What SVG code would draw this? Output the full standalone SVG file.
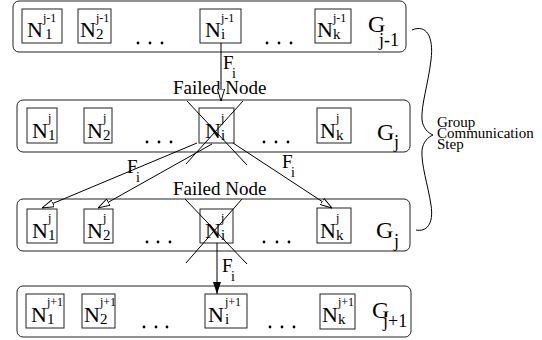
<svg xmlns="http://www.w3.org/2000/svg" width="542" height="340" viewBox="0 0 542 340" font-family="'Liberation Serif', 'DejaVu Serif', serif">
  <defs>
    <style>
      .grp { fill: #fff; stroke: #222; stroke-width: 1; }
      .box { fill: none; stroke: #222; stroke-width: 1; }
      .ln { fill: none; stroke: #000; stroke-width: 1; }
      text { font-family: 'Liberation Serif', 'DejaVu Serif', serif; fill: #000; }
      .n { font-size: 22px; }
      .sup { font-size: 12px; }
      .sub { font-size: 15px; }
      .g { font-size: 24px; }
      .gs { font-size: 18px; }
      .lbl { font-size: 19px; }
      .ls { font-size: 14px; }
      .side { font-size: 15px; }
      .dot { fill: #000; }
    </style>
    <marker id="open" markerUnits="userSpaceOnUse" markerWidth="12" markerHeight="8" viewBox="0 0 10 6" refX="10" refY="3" orient="auto">
      <path d="M0,0 L10,3 L0,6 Z" fill="#fff" stroke="#000" stroke-width="0.8"/>
    </marker>
    <marker id="solid" markerUnits="userSpaceOnUse" markerWidth="12" markerHeight="8" viewBox="0 0 12 8" refX="12" refY="4" orient="auto">
      <path d="M0,0 L12,4 L0,8 Z" fill="#000"/>
    </marker>
  </defs>

  <!-- group G(j-1) -->
  <g id="G_jm1">
    <rect class="grp" x="13" y="1" width="393" height="51" rx="6"/>
    <text class="g" x="368" y="32">G</text>
    <text class="gs" x="379" y="46">j-1</text>
    <circle class="dot" cx="138" cy="43" r="1.4"/><circle class="dot" cx="150" cy="43" r="1.4"/><circle class="dot" cx="162" cy="43" r="1.4"/>
    <circle class="dot" cx="267" cy="43" r="1.4"/><circle class="dot" cx="279" cy="43" r="1.4"/><circle class="dot" cx="291" cy="43" r="1.4"/>
  </g>
  <g id="N1_jm1"><rect class="box" x="22" y="9" width="40" height="34"/>
    <text class="n"><tspan x="27" y="37">N</tspan><tspan class="sup" x="43" y="22">j-1</tspan><tspan class="sub" x="45" y="39">1</tspan></text></g>
  <g id="N2_jm1"><rect class="box" x="78" y="9" width="33" height="34"/>
    <text class="n"><tspan x="80" y="37">N</tspan><tspan class="sup" x="96" y="22">j-1</tspan><tspan class="sub" x="96" y="39">2</tspan></text></g>
  <g id="Ni_jm1"><rect class="box" x="200" y="9" width="41" height="34"/>
    <text class="n"><tspan x="205" y="37">N</tspan><tspan class="sup" x="221" y="22">j-1</tspan><tspan class="sub" x="221" y="39">i</tspan></text></g>
  <g id="Nk_jm1"><rect class="box" x="315" y="9" width="36" height="34"/>
    <text class="n"><tspan x="317" y="37">N</tspan><tspan class="sup" x="333" y="22">j-1</tspan><tspan class="sub" x="333" y="39">k</tspan></text></g>

  <!-- group G(j), before failure -->
  <g id="G_j_a">
    <rect class="grp" x="17" y="100" width="393" height="52" rx="6"/>
    <text class="g" x="377" y="140">G</text>
    <text class="gs" x="394" y="148">j</text>
    <circle class="dot" cx="147" cy="142" r="1.4"/><circle class="dot" cx="159" cy="142" r="1.4"/><circle class="dot" cx="171" cy="142" r="1.4"/>
    <circle class="dot" cx="264" cy="142" r="1.4"/><circle class="dot" cx="276" cy="142" r="1.4"/><circle class="dot" cx="288" cy="142" r="1.4"/>
  </g>
  <g id="N1_j_a"><rect class="box" x="27" y="108" width="30" height="35"/>
    <text class="n"><tspan x="32" y="138">N</tspan><tspan class="sup" x="48" y="122">j</tspan><tspan class="sub" x="48" y="140">1</tspan></text></g>
  <g id="N2_j_a"><rect class="box" x="84" y="108" width="28" height="35"/>
    <text class="n"><tspan x="87" y="138">N</tspan><tspan class="sup" x="103" y="122">j</tspan><tspan class="sub" x="103" y="140">2</tspan></text></g>
  <g id="Ni_j_a"><rect class="box" x="199" y="108" width="35" height="35"/>
    <text class="n"><tspan x="205" y="138">N</tspan><tspan class="sup" x="221" y="122">j</tspan><tspan class="sub" x="221" y="140">i</tspan></text>
    <line class="ln" x1="187" y1="101" x2="247" y2="165"/>
    <line class="ln" x1="243" y1="101" x2="186" y2="164"/>
    <text class="lbl" x="173" y="94">Failed Node</text></g>
  <g id="Nk_j_a"><rect class="box" x="317" y="108" width="34" height="35"/>
    <text class="n"><tspan x="320" y="138">N</tspan><tspan class="sup" x="336" y="122">j</tspan><tspan class="sub" x="336" y="140">k</tspan></text></g>

  <!-- group G(j), after failure -->
  <g id="G_j_b">
    <rect class="grp" x="17" y="199" width="393" height="52" rx="6"/>
    <text class="g" x="376" y="238">G</text>
    <text class="gs" x="394" y="247">j</text>
    <circle class="dot" cx="147" cy="242" r="1.4"/><circle class="dot" cx="158" cy="242" r="1.4"/><circle class="dot" cx="170" cy="242" r="1.4"/>
    <circle class="dot" cx="264" cy="242" r="1.4"/><circle class="dot" cx="277" cy="242" r="1.4"/><circle class="dot" cx="289" cy="242" r="1.4"/>
  </g>
  <g id="N1_j_b"><rect class="box" x="27" y="209" width="30" height="34"/>
    <text class="n"><tspan x="32" y="238">N</tspan><tspan class="sup" x="48" y="222">j</tspan><tspan class="sub" x="48" y="240">1</tspan></text></g>
  <g id="N2_j_b"><rect class="box" x="84" y="209" width="29" height="34"/>
    <text class="n"><tspan x="87" y="238">N</tspan><tspan class="sup" x="103" y="222">j</tspan><tspan class="sub" x="103" y="240">2</tspan></text></g>
  <g id="Ni_j_b"><rect class="box" x="200" y="209" width="33" height="34"/>
    <text class="n"><tspan x="205" y="238">N</tspan><tspan class="sup" x="221" y="222">j</tspan><tspan class="sub" x="221" y="240">i</tspan></text>
    <line class="ln" x1="185" y1="199" x2="247" y2="264"/>
    <line class="ln" x1="242" y1="199" x2="186" y2="263"/>
    <text class="lbl" x="173" y="195">Failed Node</text></g>
  <g id="Nk_j_b"><rect class="box" x="317" y="208" width="34" height="35"/>
    <text class="n"><tspan x="320" y="238">N</tspan><tspan class="sup" x="336" y="222">j</tspan><tspan class="sub" x="336" y="240">k</tspan></text></g>

  <!-- group G(j+1) -->
  <g id="G_jp1">
    <rect class="grp" x="17" y="286" width="394" height="51" rx="6"/>
    <text class="g" x="372" y="318">G</text>
    <text class="gs" x="383" y="327">j+1</text>
    <circle class="dot" cx="144" cy="327" r="1.4"/><circle class="dot" cx="156" cy="327" r="1.4"/><circle class="dot" cx="167" cy="327" r="1.4"/>
    <circle class="dot" cx="270" cy="327" r="1.4"/><circle class="dot" cx="282" cy="327" r="1.4"/><circle class="dot" cx="294" cy="327" r="1.4"/>
  </g>
  <g id="N1_jp1"><rect class="box" x="26" y="294" width="38" height="34"/>
    <text class="n"><tspan x="31" y="322">N</tspan><tspan class="sup" x="47" y="306">j+1</tspan><tspan class="sub" x="47" y="324">1</tspan></text></g>
  <g id="N2_jp1"><rect class="box" x="82" y="294" width="33" height="34"/>
    <text class="n"><tspan x="84" y="322">N</tspan><tspan class="sup" x="100" y="306">j+1</tspan><tspan class="sub" x="100" y="324">2</tspan></text></g>
  <g id="Ni_jp1"><rect class="box" x="205" y="294" width="42" height="34"/>
    <text class="n"><tspan x="208" y="322">N</tspan><tspan class="sup" x="225" y="306">j+1</tspan><tspan class="sub" x="225" y="324">i</tspan></text></g>
  <g id="Nk_jp1"><rect class="box" x="320" y="294" width="35" height="35"/>
    <text class="n"><tspan x="322" y="322">N</tspan><tspan class="sup" x="338" y="306">j+1</tspan><tspan class="sub" x="338" y="324">k</tspan></text></g>

  <!-- message flows F_i -->
  <g id="connectors">
    <line class="ln" x1="221" y1="43" x2="221" y2="101" marker-end="url(#open)"/>
    <line class="ln" x1="197" y1="143" x2="42" y2="208" marker-end="url(#open)"/>
    <line class="ln" x1="212" y1="144" x2="98" y2="208" marker-end="url(#open)"/>
    <line class="ln" x1="233" y1="143" x2="332" y2="208" marker-end="url(#open)"/>
    <line class="ln" x1="217" y1="243" x2="217" y2="294" stroke-width="1.6" marker-end="url(#solid)"/>
    <text class="lbl" x="223" y="69">F<tspan class="ls" x="232" y="78">i</tspan></text>
    <text class="lbl" x="127" y="173">F<tspan class="ls" x="136" y="182">i</tspan></text>
    <text class="lbl" x="282" y="168">F<tspan class="ls" x="291" y="177">i</tspan></text>
    <text class="lbl" x="222" y="272">F<tspan class="ls" x="231" y="281">i</tspan></text>
  </g>

  <!-- brace spanning one group communication step -->
  <g id="step">
    <path class="ln" d="M412,30 C426,24 434,36 431,60 C428,85 421,105 422,120 C423,128 428,133 433,135 C428,137 423,142 422,150 C421,165 428,185 431,205 C434,225 426,232 416,230"/>
    <text class="side" x="437" y="127">Group</text>
    <text class="side" x="437" y="138">Communication</text>
    <text class="side" x="437" y="149">Step</text>
  </g>
</svg>
